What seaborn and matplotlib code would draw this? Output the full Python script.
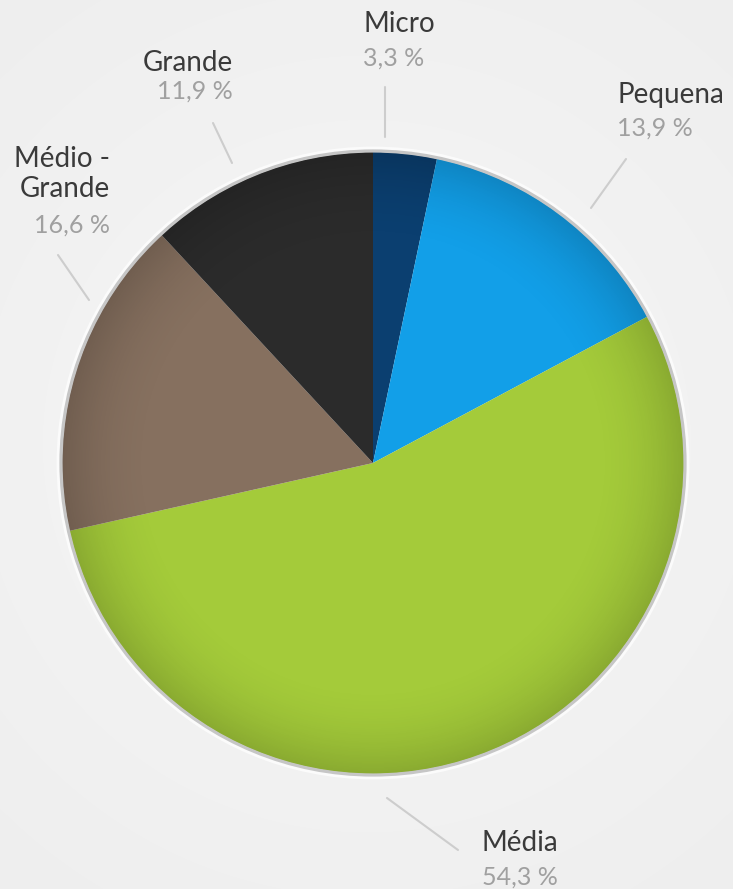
import numpy as np
import seaborn as sns
import matplotlib.pyplot as plt
from matplotlib.patches import Circle

# data
categories = ['Micro', 'Pequena', 'Média', 'Médio -\nGrande', 'Grande']
shares = [3.3, 13.9, 54.3, 16.6, 11.9]
pct_labels = ['3,3 %', '13,9 %', '54,3 %', '16,6 %', '11,9 %']
colors = ['#0b3f70', '#129fe8', '#a4cb3a', '#86705f', '#2b2b2b']

sns.set_theme(style="white")
plt.rcParams['font.family'] = ['Lato', 'DejaVu Sans']

W, H = 733, 889
fig = plt.figure(figsize=(W / 100, H / 100), dpi=100)
fig.patch.set_facecolor('#f1f1f1')
ax = fig.add_axes([0, 0, 1, 1])
ax.set_facecolor('#f1f1f1')

cx, cy, r = 373, H - 463, 311

# light background gradient
yy, xx = np.mgrid[0:H, 0:W]
bg = 0.93 + 0.035 * (1 - np.hypot(xx - W / 2, yy - H / 2) / np.hypot(W / 2, H / 2))
ax.imshow(bg, cmap='gray', vmin=0, vmax=1, extent=(0, W, 0, H), origin='lower', zorder=0)

wedges, _ = ax.pie(shares, colors=colors, startangle=90, counterclock=False,
                   center=(cx, cy), radius=r, frame=True,
                   wedgeprops=dict(edgecolor='none', linewidth=0))
for w in wedges:
    w.set_zorder(2)
ax.set_xlim(0, W)
ax.set_ylim(0, H)
ax.set_aspect('equal')
ax.axis('off')

# soft rim shading over the pie
g = np.linspace(-1, 1, 400)
gx, gy = np.meshgrid(g, g)
dist = np.hypot(gx, gy)
shade = np.zeros((400, 400, 4))
shade[..., 3] = np.clip((dist - 0.7) / 0.3, 0, 1) ** 2 * 0.16
im = ax.imshow(shade, extent=(cx - r, cx + r, cy - r, cy + r), zorder=3)
im.set_clip_path(Circle((cx, cy), r, transform=ax.transData))

ax.add_patch(Circle((cx, cy), r + 1.5, fill=False, edgecolor='#c6c6c6', linewidth=3, zorder=4))
ax.add_patch(Circle((cx, cy), r + 4, fill=False, edgecolor='#fbfbfb', linewidth=2, zorder=4))

# labels (x, name y, pct y, alignment) in pixel coords from top
label_pos = [
    (363, 24, 58, 'left'),
    (617, 95, 128, 'left'),
    (482, 843, 877, 'left'),
    (110, 174, 225, 'right'),
    (233, 63, 91, 'right'),
]
for name, pct, (x, ny, py, ha) in zip(categories, pct_labels, label_pos):
    ax.text(x, H - ny, name, ha=ha, va='center', fontsize=20, color='#3a3a3a',
            linespacing=1.2, zorder=5)
    ax.text(x, H - py, pct, ha=ha, va='center', fontsize=18, color='#a0a0a0', zorder=5)

# leader lines
leaders = [
    ((385, 87), (385, 137)),
    ((626, 159), (591, 208)),
    ((387, 798), (458, 850)),
    ((58, 255), (89, 300)),
    ((213, 123), (232, 163)),
]
for (x0, y0), (x1, y1) in leaders:
    ax.plot([x0, x1], [H - y0, H - y1], color='#cdcdcd', linewidth=1.5, zorder=1)

fig.savefig('out.png', dpi=100, facecolor=fig.get_facecolor())
